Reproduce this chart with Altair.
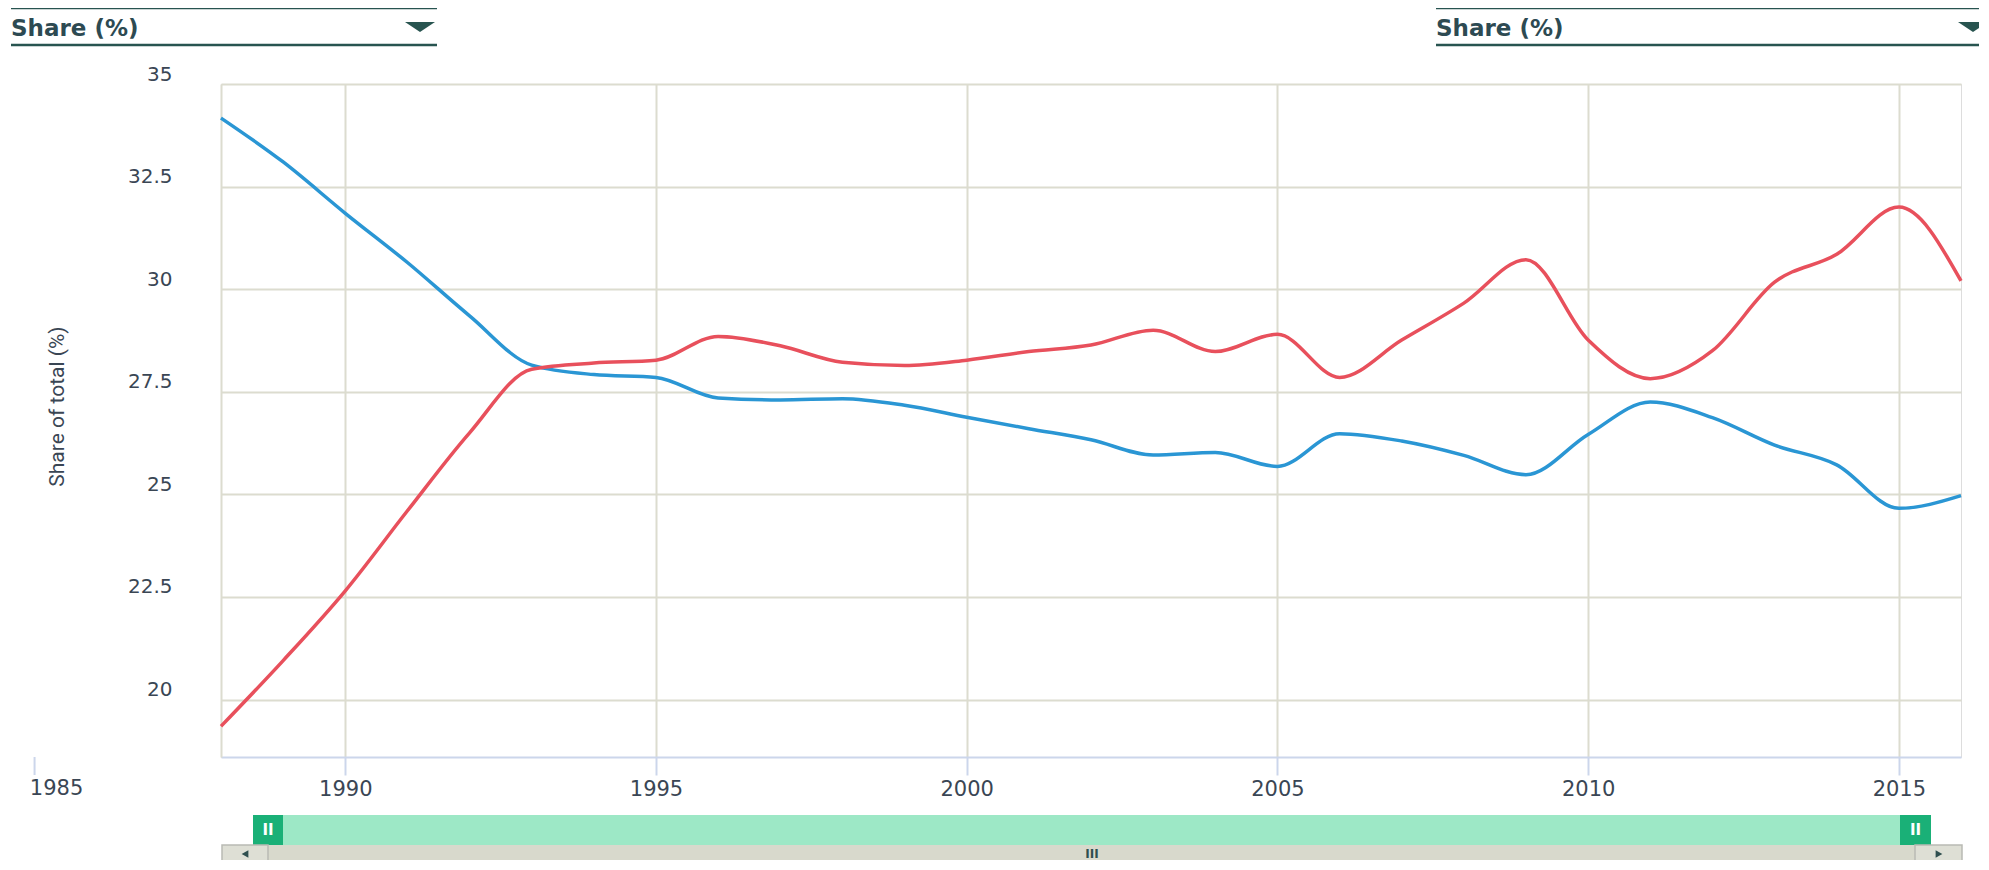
import altair as alt
import pandas as pd

# ---------------- data ----------------
years = list(range(1988, 2017))
blue_share = [34.17, 33.10, 31.85, 30.65, 29.35, 28.15, 27.92, 27.85, 27.35, 27.30,
              27.33, 27.17, 26.88, 26.60, 26.33, 25.96, 26.02, 25.68, 26.48, 26.30,
              25.95, 25.48, 26.46, 27.25, 26.87, 26.20, 25.72, 24.66, 24.97]
red_share = [19.35, 20.95, 22.65, 24.60, 26.50, 28.05, 28.20, 28.27, 28.85, 28.62,
             28.22, 28.14, 28.27, 28.48, 28.64, 29.00, 28.48, 28.90, 27.85, 28.76,
             29.66, 30.72, 28.76, 27.82, 28.50, 30.17, 30.85, 32.00, 30.20]
series_names = ["Series 1", "Series 2"]
series_colors = ["#2a96d4", "#e8505c"]
x_tick_years = [1990, 1995, 2000, 2005, 2010, 2015]
extra_tick_years = [1985]
y_ticks = [20, 22.5, 25, 27.5, 30, 32.5, 35]
selector_labels = ["Share (%)", "Share (%)"]
y_title = "Share of total (%)"
handle_glyph = "II"
grip_glyph = "III"

df = pd.DataFrame({
    "year": years * 2,
    "share": blue_share + red_share,
    "series": [series_names[0]] * len(years) + [series_names[1]] * len(years),
})
extra_df = pd.DataFrame({"year": extra_tick_years,
                         "label": [str(y) for y in extra_tick_years]})
one = pd.DataFrame({"k": [0]})

# ---------------- style ----------------
W, H = 1740, 673
FONT = "DejaVu Sans"
LABEL_COLOR = "#3a4654"
GRID = "#dcdccf"
AXIS_BLUE = "#ccd6eb"
DARK_TEAL = "#285450"

x_scale = alt.Scale(domain=[1988, 2016], nice=False, zero=False)
y_scale = alt.Scale(domain=[18.6, 35], nice=False, zero=False)

lines = alt.Chart(df).mark_line(interpolate="monotone", strokeWidth=3.5).encode(
    x=alt.X("year:Q", scale=x_scale,
            axis=alt.Axis(values=x_tick_years, format="d", title=None,
                          grid=True, gridColor=GRID, gridWidth=2,
                          domainColor=AXIS_BLUE, domainWidth=2,
                          tickColor=AXIS_BLUE, tickWidth=2, tickSize=18,
                          labelFont=FONT, labelFontSize=21, labelColor=LABEL_COLOR,
                          labelPadding=3, labelFlush=False, labelOverlap=False)),
    y=alt.Y("share:Q", scale=y_scale,
            axis=alt.Axis(values=y_ticks, format=".1~f", title=y_title,
                          grid=True, gridColor=GRID, gridWidth=2,
                          domainColor=GRID, domainWidth=2, ticks=False,
                          labelFont=FONT, labelFontSize=20, labelColor=LABEL_COLOR,
                          labelPadding=49, labelBaseline="middle", labelOffset=-10,
                          labelOverlap=False,
                          titleFont="Liberation Sans Narrow, Roboto, sans-serif",
                          titleFontSize=21, titleFontWeight="normal",
                          titleColor=LABEL_COLOR, titleX=-164, titleY=322,
                          titleAngle=270, titleBaseline="middle", titleAlign="center")),
    color=alt.Color("series:N", scale=alt.Scale(domain=series_names, range=series_colors),
                    legend=None),
)

extra_tick = alt.Chart(extra_df).mark_rule(color=AXIS_BLUE, strokeWidth=2).encode(
    x=alt.X("year:Q", scale=x_scale), y=alt.value(H), y2=alt.value(H + 18))
extra_label = alt.Chart(extra_df).mark_text(
    font=FONT, fontSize=21, color=LABEL_COLOR, baseline="top", align="center", dx=22
).encode(x=alt.X("year:Q", scale=x_scale), y=alt.value(H + 21), text="label:N")


def hrule(x1, x2, y, color, w):
    return alt.Chart(one).mark_rule(color=color, strokeWidth=w).encode(
        x=alt.value(x1), x2=alt.value(x2), y=alt.value(y))


def box(x1, x2, y1, y2, fill, stroke=None):
    kw = dict(fill=fill)
    if stroke:
        kw.update(stroke=stroke, strokeWidth=1.5)
    return alt.Chart(one).mark_rect(**kw).encode(
        x=alt.value(x1), x2=alt.value(x2), y=alt.value(y1), y2=alt.value(y2))


def label(txt, x, y, size, color, weight="normal", align="left"):
    return alt.Chart(one).mark_text(
        text=txt, font=FONT, fontSize=size, color=color, fontWeight=weight,
        align=align, baseline="middle").encode(x=alt.value(x), y=alt.value(y))


def tri(x, y, shape, size, color):
    return alt.Chart(one).mark_point(shape=shape, filled=True, size=size,
                                     color=color, opacity=1, strokeWidth=0).encode(
        x=alt.value(x), y=alt.value(y))


DOWN = "M-1,-0.33L1,-0.33L0,0.33Z"

decor = [
    # left selector
    hrule(-210, 216, -76, DARK_TEAL, 2.5),
    hrule(-210, 216, -39, DARK_TEAL, 2.5),
    label(selector_labels[0], -210, -55, 23, "#2d4a52", "bold"),
    tri(199, -57, DOWN, 900, DARK_TEAL),
    # right selector
    hrule(1215, 1775, -76, DARK_TEAL, 2.5),
    hrule(1215, 1775, -39, DARK_TEAL, 2.5),
    label(selector_labels[1], 1215, -55, 23, "#2d4a52", "bold"),
    tri(1752, -57, DOWN, 900, DARK_TEAL),
    # navigator
    box(35, 1710, 731, 761, "#9de8c6"),
    box(32, 62, 731, 762, "#1ab077"),
    box(1679, 1710, 731, 762, "#1ab077"),
    label(handle_glyph, 47, 746, 15, "#ffffff", "bold", "center"),
    label(handle_glyph, 1694.5, 746, 15, "#ffffff", "bold", "center"),
    box(1, 1741, 761, 800, "#d8d9cc"),
    box(1, 47, 761, 800, "#dedfd5", "#b9bab4"),
    box(1694, 1741, 761, 800, "#dedfd5", "#b9bab4"),
    tri(24, 770, "triangle-left", 60, "#2f4f4f"),
    tri(1718, 770, "triangle-right", 60, "#2f4f4f"),
    label(grip_glyph, 871, 770, 12, "#2f4f4f", "bold", "center"),
]

chart = alt.layer(lines, extra_tick, extra_label, *decor).properties(
    width=W, height=H,
    autosize=alt.AutoSizeParams(type="none"),
    padding={"left": 213, "top": 76, "right": 18, "bottom": 103},
).configure_view(stroke=None).configure(background="white")

chart.save("out.html", embed_options={"renderer": "svg", "actions": False})
